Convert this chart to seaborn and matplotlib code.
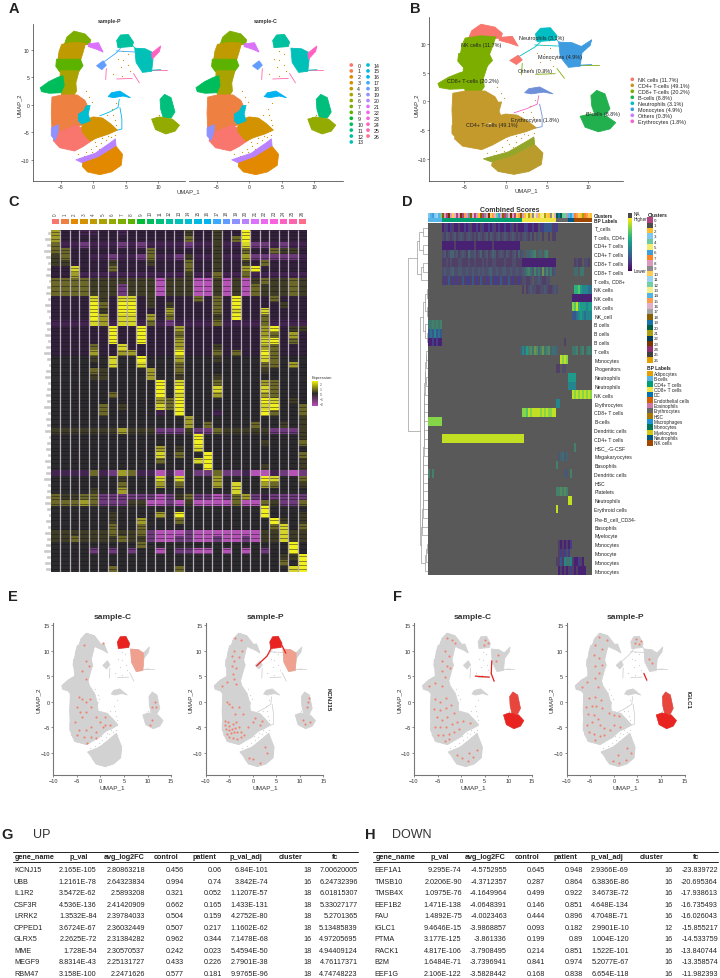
import numpy as np
import pandas as pd
import matplotlib
matplotlib.use("Agg")
import matplotlib.pyplot as plt
from matplotlib.colors import ListedColormap, LinearSegmentedColormap, Normalize, to_rgb
from matplotlib.cm import ScalarMappable
import seaborn as sns

sns.set_theme(style="ticks")
plt.rcParams["font.family"] = ["Liberation Sans", "DejaVu Sans"]

W, H = 720, 979
fig = plt.figure(figsize=(W / 100, H / 100), dpi=100, facecolor="white")


def px_axes(left, top, right, bottom, **kw):
    """Axes placed by pixel edges, measured from the top-left of the figure."""
    return fig.add_axes([left / W, 1 - bottom / H, (right - left) / W, (bottom - top) / H], **kw)


# ---- UMAP outlines of the whole cell cloud (UMAP_1, UMAP_2) ----
SILHOUETTE_MAIN = [(-4.1, 12.3), (-3, 13.4), (-1.3, 12.9), (0.1, 11.3), (1.5, 9.5), (-0.2, 10.7), (-1.3, 10.7), (-2.2, 8.4),
                   (-1.7, 7), (-2.6, 4.1), (-2.3, 3.1), (-1.2, 1.6), (-0.7, 0), (-0.5, -1.8), (1.5, -2.3), (2.6, -3.4), (3.7, -4.5),
                   (1.6, -5.4), (-0.2, -7), (-1.6, -7.7), (-2.9, -8.4), (-5.5, -7.8), (-6.3, -5.8), (-6.5, -2), (-6.3, 1.4), (-6.9, 2.1),
                   (-8.2, 3.1), (-6.9, 4.2), (-5.5, 4.9), (-5.7, 8), (-5, 10)]
SILHOUETTE_LOWER = [(-2.7, -9.8), (-0.2, -8.9), (2.6, -6.8), (3.4, -6.2), (4.5, -8.8), (4.2, -11), (2.6, -12.2), (1, -12.7),
                    (-0.9, -12.2)]

# Outlines of the Seurat clusters
CLOUD = {
    7: [(-4.1, 12.3), (-3, 13.4), (-1.3, 12.9), (-0.4, 11.8), (-0.6, 11), (-1.5, 10.9), (-3, 11), (-4.6, 10.6)],
    4: [(-4.9, 11), (-3, 11.4), (-1.2, 11.2), (-1.6, 9.5), (-2, 8), (-5.5, 8), (-5.3, 9.7)],
    8: [(-5.7, 8.3), (-2, 8.3), (-1.6, 7.1), (-2.3, 6), (-5.2, 6), (-5.8, 7)],
    5: [(-5.1, 6.2), (-2.2, 6.2), (-2.7, 4), (-2.6, 2.5), (-3.4, 1), (-4.8, 1), (-5.2, 4)],
    10: [(-8.2, 3.1), (-6.9, 4.2), (-5.5, 5), (-4.7, 5.3), (-4.5, 3.5), (-5, 2.2), (-6.8, 2.1), (-8, 2.4)],
    1: [(-6.4, 1.4), (-4.9, 1.8), (-2.5, 1.8), (-1.3, 0.8), (-0.9, -0.2), (-1, -2.5), (-1.6, -3.6), (-3, -4.2), (-5.7, -5.8),
        (-6.4, -4.5), (-6.5, -1.5)],
    0: [(-5.9, -5.3), (-2.8, -3.7), (-1.6, -4.3), (-0.4, -5.4), (-0.1, -6.4), (-1.6, -7.6), (-2.9, -8.4), (-5.2, -7.8), (-6.2, -6.5)],
    3: [(-1.8, -4), (-1, -2.6), (0, -2.2), (1.4, -2.4), (2.6, -3.4), (3.7, -4.6), (2.4, -5.3), (0.6, -6), (-0.5, -6.6), (-1.7, -5)],
    14: [(-2.3, -1.7), (-1.5, -1.1), (-1.1, -0.2), (-0.5, -0.1), (-0.8, -1.7), (-0.5, -2.9), (-1.8, -3.5), (-2.3, -2.9)],
    2: [(-1.6, -10.2), (0.5, -9.5), (2.8, -8), (3.4, -7.4), (4.5, -9), (4.3, -11), (2.8, -12.2), (1, -12.7), (-0.9, -12.2), (-1.7, -11.2)],
    20: [(-2.7, -10), (0.3, -8.8), (2.6, -6.9), (3.4, -6.2), (3.5, -7.4), (0.8, -9.4), (-1.8, -10.5)],
    19: [(-6.5, -4.2), (-5.4, -3.6), (-5.4, -4.7), (-5.9, -6.5), (-6.5, -5.6)],
    12: [(3.6, 11.7), (4.2, 12.7), (5.4, 12.8), (6.2, 11.4), (6, 10.6), (3.8, 10.4)],
    13: [(6.4, 10.3), (8, 10.2), (9.2, 9.5), (9.2, 8.2), (9, 6.1), (7.6, 5.9), (6.6, 7.7)],
    24: [(9, 9.4), (10.4, 10.7), (10.2, 9.7), (9.1, 8.3)],
    11: [(10.3, 1), (11, 1.9), (12, 1.3), (12.6, -1.3), (12, -2.4), (10.8, -2.4), (10.4, -0.8)],
    6: [(9, -2.6), (10.2, -2.2), (12.2, -2.6), (13.3, -3.7), (12.6, -4.8), (11.2, -5.3), (9.6, -4.5)],
    16: [(2.3, 1.5), (2.8, 2.2), (4.1, 2.5), (5.7, 1.3), (4.6, 1.6), (3.1, 1.3)],
    18: [(0.5, 7.1), (1.5, 8), (2, 7.2), (1.3, 6.4)],
    21: [(-0.8, 11.1), (0.8, 11.3), (1.5, 9.6), (0.5, 10.1), (-0.8, 10.6)],
}

# Thin trails of sparse cells, drawn as strokes: (cluster, points)
TRAILS_COMMON = [
    (17, [(-5.6, 7.5), (-5.2, 9.4), (-4.5, 10.6)]),
    (25, [(2, 6.6), (1.9, 4.6)]),
    (25, [(6.2, 5.7), (7.1, 4)]),
    (25, [(8, 6.3), (11.3, 6.3)]),
    (25, [(3.6, 4.7), (6, 4.8)]),
    (13, [(9.1, 6.3), (10.4, 6.4)]),
]
TRAILS_SAMPLE_P = [
    (16, [(4.1, -0.5), (4.4, -2.5), (4.4, -4.4), (3.4, -4.7)]),
    (15, [(1, -2), (2.5, -1.3), (3.8, -0.5), (4, 1)]),
    (17, [(0.8, 7.1), (3.6, 9.5), (4.9, 11.3)]),
    (13, [(5.9, 11), (7, 9.6)]),
    (17, [(3.5, 9.8), (6.5, 9.6)]),
]
# Isolated cells around the gaps between the larger clouds
STRAY_CELLS = [(-2.3, -9), (-1.2, -8.6), (-0.4, -8), (0.4, -7.5), (1.2, -7), (1.9, -6.4), (2.7, -5.9), (3.4, -5.5), (-1.4, -9.3),
               (-0.2, -8.6), (0.9, -8), (1.8, -7.4), (0.2, -6.8), (1.3, -6.1), (2.2, -5.6), (3.1, -1.8), (2.1, -1.8), (3.3, -2.8),
               (3.5, -3.6), (2.9, -0.8), (3.5, 0.3), (-1.1, 2.5), (-0.6, 1.4), (-0.2, 0.5), (4.6, 9.8), (5.3, 9.3), (3.8, 8.4),
               (4.6, 8.2), (5.4, 7.2), (4.2, 6.8), (5.7, 6.2), (3.1, 5.6), (4.5, 5.3), (10.2, -1.9), (9.7, -2.2)]

CLUSTER_IDS = list(range(27))
HUE_27 = ["#F8766D", "#EE8042", "#E38900", "#D39200", "#BF9A00", "#AAA200", "#93AA00", "#7CAE00", "#5BB300",
          "#00BA38", "#00BD5C", "#00BF7D", "#00C19F", "#00C0B8", "#00BDD1", "#00B9E3", "#00B3F0", "#3AA9FF",
          "#619CFF", "#8F91FF", "#B983FF", "#DB72FB", "#EC69EF", "#F962DD", "#FF61C3", "#FF65AC", "#FE6E8A"]

CELL_TYPES = ["NK cells (11.7%)", "CD4+ T-cells (49.1%)", "CD8+ T-cells (20.2%)", "B-cells (8.8%)",
              "Neutrophils (3.1%)", "Monocytes (4.9%)", "Others (0.3%)", "Erythrocytes (1.8%)"]
CELL_COLORS = ["#F8766D", "#C49A2C", "#7CAE00", "#22B04F", "#00BFC4", "#3F9BE0", "#C77CFF", "#F564C8"]
# cluster-level fill in panel B: annotated cell type, with mixed CD4/CD8 shades for the lower lobe
CLUSTER_FILL_B = {7: "#F8766D", 21: "#F8766D", 18: "#F8766D", 4: "#7CAE00", 8: "#7CAE00", 5: "#7CAE00", 10: "#7CAE00",
                  1: "#C49A2C", 14: "#C49A2C", 0: "#C49A2C", 3: "#C49A2C", 19: "#C49A2C", 2: "#B99C2C", 20: "#94A62A",
                  12: "#00BFC4", 13: "#3F9BE0", 24: "#3F9BE0", 11: "#22B04F", 6: "#22B04F", 16: "#6F8FD8", 15: "#F564C8",
                  17: "#00BFC4", 25: "#7CAE00"}
TYPE_LABEL_XY = [(-3, 9.9), (-1.65, -4.1), (-4, 3.7), (11.8, -2.1), (4.4, 11.1), (6.6, 7.8), (3.5, 5.4), (3.6, -3.1)]


def draw_cloud(ax, colour_of, trails, base=None):
    if base:
        for outline in (SILHOUETTE_MAIN, SILHOUETTE_LOWER):
            xs, ys = zip(*outline)
            ax.fill(xs, ys, facecolor=base, edgecolor=base, lw=0.5, zorder=1.8)
    for cid, outline in CLOUD.items():
        xs, ys = zip(*outline)
        ax.fill(xs, ys, facecolor=colour_of(cid), edgecolor=colour_of(cid), lw=0.6, zorder=2, joinstyle="round")
    for cid, pts in trails:
        xs, ys = zip(*pts)
        ax.plot(xs, ys, color=colour_of(cid), lw=0.6, zorder=1.5, solid_capstyle="round")
    sx, sy = zip(*STRAY_CELLS)
    sns.scatterplot(x=list(sx), y=list(sy), ax=ax, color=base or colour_of(3), s=0.8, linewidth=0, zorder=1.6, legend=False)


def style_umap(ax, xlim, ylim, xticks, yticks, left=True, size=3.6, spine="#333333", lw=0.5):
    ax.set_xlim(*xlim)
    ax.set_ylim(*ylim)
    ax.set_xticks(xticks)
    ax.set_yticks(yticks if left else [])
    ax.set_facecolor("none")
    ax.tick_params(length=1.5, width=0.4, labelsize=size, pad=1, colors="#333333")
    sns.despine(ax=ax, left=not left)
    for s in ax.spines.values():
        s.set_linewidth(lw)
        s.set_color(spine)
    ax.grid(False)


# ---- Panel A: clusters split by sample ----
a_xticks, a_yticks = [-5, 0, 5, 10], [-10, -5, 0, 5, 10]
ax = px_axes(32.7, 25, 185.3, 181.7)
draw_cloud(ax, lambda c: HUE_27[c], TRAILS_COMMON + TRAILS_SAMPLE_P)
style_umap(ax, (-9.37, 14.2), (-13.8, 14.7), a_xticks, a_yticks)
ax = px_axes(189.3, 25, 343.3, 181.7)
draw_cloud(ax, lambda c: HUE_27[c], TRAILS_COMMON)
style_umap(ax, (-9.23, 14.46), (-13.8, 14.7), a_xticks, a_yticks, left=False)

# ---- Panel B: annotated cell types ----
ax_b = px_axes(429.3, 18, 623, 181.7)
draw_cloud(ax_b, lambda c: CLUSTER_FILL_B[c], TRAILS_COMMON + TRAILS_SAMPLE_P)
style_umap(ax_b, (-9.24, 14.18), (-13.8, 14.66), a_xticks, a_yticks)
for label, (lx, ly) in zip(CELL_TYPES, TYPE_LABEL_XY):
    ax_b.text(lx, ly, label, fontsize=3.9, color="#222222", ha="center", va="center", zorder=5)

# ---- Panel C: marker gene heatmap, levels per gene block (rows) and cluster (columns) ----
# 0-4 low side (charcoal to pink), 5-9 high side (olive to bright yellow)
C_COLOURS = ["#2B2A2C", "#33213C", "#432450", "#6F3A7C", "#B552B5", "#3F3D25", "#6B6828", "#9F9C28", "#D5D52A", "#F2F01E"]
C_ROWS = [
    "71122 11211 11115 11511 91111 11",
    "71111 11111 11116 11516 91111 11",
    "62232 22323 22223 22522 83323 22",
    "66111 11111 61111 11511 61165 51",
    "56112 23223 62235 22522 73333 32",
    "55111 15111 51116 11511 51611 11",
    "11811 16111 11116 11511 79111 11",
    "11722 22222 22225 22622 62222 22",
    "66665 55555 54555 44545 45655 65",
    "66665 55355 54555 44545 46555 65",
    "66665 55355 54555 44545 46555 65",
    "11118 51881 51111 61619 11161 11",
    "11119 61991 51511 11619 11115 11",
    "11119 51991 11711 11618 11811 11",
    "11119 71881 71611 11519 11611 11",
    "22228 72882 62322 22622 22622 22",
    "11111 19119 11171 11111 11791 55",
    "11111 19119 11161 11111 11761 71",
    "11111 19119 11171 11111 11891 61",
    "11116 11811 11171 11511 11761 11",
    "11117 11771 11191 11616 11961 11",
    "00005 08009 00070 00500 00860 00",
    "00000 08008 00060 00000 00660 70",
    "00006 50000 70060 00000 00500 00",
    "00005 50000 70050 00500 00000 00",
    "00000 00000 09080 00600 00760 00",
    "00000 00000 09090 00800 00860 00",
    "00000 06000 09080 00700 00760 00",
    "00000 00000 07690 00000 00980 50",
    "00000 60500 08690 00000 00890 06",
    "00000 60000 02090 00200 00960 06",
    "00000 00000 00007 00000 00000 05",
    "00000 00000 00007 06000 06005 05",
    "55555 55755 53335 33655 55533 35",
    "00000 00000 00000 90000 00000 05",
    "00000 00000 00000 90000 00500 06",
    "00000 00000 07050 80000 00000 00",
    "00000 00000 08060 09000 00000 06",
    "00000 00000 06000 89000 00000 05",
    "00000 00000 00000 09000 00500 05",
    "22226 23762 24240 33633 24423 43",
    "00000 00500 08080 00700 00980 06",
    "00000 00600 07060 00708 00760 05",
    "00005 00700 00000 00008 00000 00",
    "65566 33333 34356 33436 73233 33",
    "66676 33355 44345 44446 44653 36",
    "00000 00000 00000 00000 00900 00",
    "00000 05000 07090 00000 00900 05",
    "00000 05007 00060 00000 00095 05",
    "00000 06006 00000 00000 00068 06",
    "55555 56556 34443 44444 44558 55",
    "55655 55655 34433 44344 34558 55",
    "00000 00006 00000 00000 00000 90",
    "00003 03030 04033 44040 40300 90",
    "00000 00000 00000 00000 00005 59",
    "00000 00000 00000 00000 00006 09",
    "00000 06000 00060 00000 00000 89",
]
# genes with low expression throughout, seen as thin dark lines across the blocks (row units)
C_LOW_GENES = [0.35, 0.8, 1.55, 2.6, 3.3, 3.85, 4.7, 5.4, 6.3, 6.9, 7.6, 8.4, 9.25, 10.1, 11.3, 11.85, 12.45, 13.2, 13.7, 14.4,
               15.1, 16.3, 16.8, 17.45, 18.2, 18.7, 19.3, 20.2, 20.8, 21.4, 22.3, 22.85, 23.6, 24.2, 25.3, 25.9, 26.5, 27.2, 27.8,
               28.35, 28.9, 29.45, 30.2, 30.8, 31.5, 32.4, 33.6, 34.3, 34.9, 35.6, 36.3, 36.9, 37.5, 38.2, 38.8, 39.6, 41.3, 41.9,
               42.6, 43.2, 44.3, 44.9, 45.7, 46.4, 47.2, 47.8, 48.3, 49.4, 49.9, 50.6, 51.3, 52.4, 53.2, 53.8, 54.4, 55.2, 55.8, 56.5]
# lengths of the (very small) gene labels left of each block
C_LABEL_WIDTH = [4, 7, 5, 8, 6, 4, 5, 6, 3, 5, 6, 4, 7, 5, 3, 6, 5, 7, 4, 6, 8, 5, 3, 6, 7, 4, 5, 6, 5, 8, 4,
                 6, 5, 7, 3, 5, 6, 4, 7, 5, 6, 8, 4, 5, 6, 7, 5, 3, 6, 4, 7, 5, 6, 8, 5, 7, 6]
c_matrix = pd.DataFrame([[int(ch) for ch in row.replace(" ", "")] for row in C_ROWS], columns=CLUSTER_IDS)

ax_c = px_axes(51, 231, 307, 573)
sns.heatmap(c_matrix, ax=ax_c, cmap=ListedColormap(C_COLOURS), vmin=-0.5, vmax=9.5, cbar=False,
            xticklabels=False, yticklabels=False, rasterized=True)
ax_c.hlines(C_LOW_GENES, 0, 27, color="#17131C", alpha=0.6, lw=0.55)
ax_c.vlines(np.arange(1, 27), 0, len(C_ROWS), color="#B8AEBB", lw=0.9)
ax_c.set_xlabel("")
ax_c.set_ylabel("")

ax_lab = px_axes(42, 231, 50.5, 573)
ax_lab.barh(np.arange(len(C_LABEL_WIDTH)) + 0.5, C_LABEL_WIDTH, height=0.72, left=[-w for w in C_LABEL_WIDTH],
            color="#C9C9C9")
ax_lab.set_xlim(-8.5, 0)
ax_lab.set_ylim(len(C_LABEL_WIDTH), 0)
ax_lab.axis("off")

ax_bar = px_axes(51, 219, 307, 225.7)
sns.heatmap(pd.DataFrame([CLUSTER_IDS], columns=CLUSTER_IDS), ax=ax_bar, cmap=ListedColormap(HUE_27), cbar=False,
            vmin=-0.5, vmax=26.5, linewidths=0.3, linecolor="white", yticklabels=False, xticklabels=CLUSTER_IDS)
ax_bar.xaxis.tick_top()
ax_bar.tick_params(axis="x", length=0, labelsize=3.3, rotation=90, pad=2.5, colors="#444444")
ax_bar.set_xlabel("")

expr_cmap = LinearSegmentedColormap.from_list("expr", ["#B94FB9", "#2A2A2A", "#F5F500"])
ax_ex = px_axes(312, 381.7, 318, 407.3)
cb = fig.colorbar(ScalarMappable(Normalize(-2.5, 2.5), expr_cmap), cax=ax_ex)
cb.set_ticks([-2, -1, 0, 1, 2])
cb.ax.tick_params(length=0, labelsize=2.4, pad=1, colors="#555555")
cb.outline.set_visible(False)

# ---- Panel D: cell type score heatmap ----
D_LABELS = ["T_cells", "T cells, CD4+", "CD4+ T cells", "CD4+ T cells", "CD8+ T cells", "CD8+ T cells", "T cells, CD8+",
            "NK cells", "NK cells", "NK cells", "NK_cell", "B cells", "B cells", "B cells", "T cells", "Monocytes",
            "Progenitors", "Neutrophils", "Neutrophils", "NK cells", "Erythrocytes", "CD8+ T cells", "B-cells",
            "Dendritic cells", "CD4+ T cells", "HSC_-G-CSF", "Megakaryocytes", "Basophils", "Dendritic cells", "HSC",
            "Platelets", "Neutrophils", "Erythroid cells", "Pre-B_cell_CD34-", "Basophils", "Myelocyte", "Monocytes",
            "Monocyte", "Monocytes", "Monocytes"]
# '.' no score; 0-9 viridis level; a-j the same levels at low confidence (mixed with the grey)
D_ROWS = [
    ".......0a101a00a00101a0010a100101a01001001a0a0001100100b112222a11",
    ".......bacbabcabcbabcbabacbabcacbabcabcbabcbababcbaca.bc.a..a.aa...",
    ".......000000a000000000a00000000a0000000000000..",
    ".......bcabddbcabcbaebbcabdabcabdcabcbacbabcadbc.ddefg.de.fg......",
    ".......aababaaabbaaabaabaaababaabbaaaabaaabbaaa00000000000000000.........abaa.bba",
    ".......bcbbcdbbccbbcbbcbbcbcbbcdbbcbbccbbcbbcbbcdfgecgdfcidgdfbc.........ee.ff",
    ".......a1a2a1a1aa2a11a2a1a2aa1a2a11a2a1a2a1aa1abbaab.bbcbaabb",
    "...............................................a.abcbbaabbcbaabcb........66754443344",
    "........................................................................0000000000",
    "........................................................................8796555455",
    "........................................................................22345434443",
    "ffgfgfg...",
    "2324232...",
    "0010100.............................................................a",
    "..............................................d4e5ghfihegifghdeed.......ffg.fg.fgf",
    "..................................................................9898.",
    "................................................................aa.bb",
    "......................................................................5555",
    "......................................................................4444",
    "........................................................................9898989898",
    "................................................................44",
    "...............................................88798999989898899",
    "8888888",
    "..........................................................................",
    ".......99999999999999999999999999999999999999999",
    ".........................................................................g",
    ".................................................................cdecd",
    "................................................................g",
    "g.g.................................................................cc.g",
    ".",
    "................................................................gghghg",
    "......................................................................99",
    "................................................................9",
    ".",
    ".",
    ".",
    ".................................................................a0a0a01",
    ".................................................................a1a1b1",
    "................................................................aa2a4ff4a001a0",
    ".................................................................0a0a0a1a0a0000",
]
D_COLS = 82
# cluster of each column, in heatmap order
D_CLUSTER_STRIP = [3, 14, 6, 3, 11, 14, 4, 18, 8, 0, 23, 8, 10, 16, 0, 8, 23, 0, 15, 8, 9, 18, 16, 0, 8, 2, 18, 0, 9, 8,
                   23, 10, 15, 16, 4, 6, 8, 18, 0, 9, 16, 23, 8, 0, 10, 15, 18, 8, 2, 5, 21, 10, 9, 13, 16, 2, 5, 13, 21,
                   10, 2, 9, 5, 16, 20, 19, 20, 4, 12, 17, 14, 6, 3, 7, 15, 10, 2, 21, 7, 15, 10, 2]
# heatmap span (in columns) of each BP label, with the label's palette index
D_BP_SPANS = [(7, 1), (40, 2), (17, 3), (6, 7), (3, 12), (9, 13)]
BP_LABELS = ["Adipocytes", "B-cells", "CD4+ T cells", "CD8+ T cells", "DC", "Endothelial cells", "Eosinophils",
             "Erythrocytes", "HSC", "Macrophages", "Monocytes", "Myelocytes", "Neutrophils", "NK cells"]
BP_COLOURS = ["#E69F00", "#56B4E9", "#009E73", "#F0E442", "#0072B2", "#D55E00", "#CC79A7", "#666666", "#AD7700",
              "#1C91D4", "#007756", "#D5C711", "#005685", "#A04700"]
DITTO_CLUSTERS = ["#B14380", "#4D4D4D", "#FFBE2D", "#80C7EF", "#6CC9A0", "#F4EB71", "#3F9FDC", "#FF8320", "#D99BBD",
                  "#8C8C8C", "#FFCB57", "#9AD2F2", "#72CFA5", "#F6EF8E", "#51B3E8", "#FF9B4D", "#E0AFCA", "#A3A3A3",
                  "#8A5F00", "#1674A9", "#005F45", "#AA9F0D", "#003C5C", "#7A3600", "#8F2F6B", "#404040", "#E69F00"]

GREY = np.array(to_rgb("#595959"))
D_LEVELS = "0123456789"
D_DIM = "abcdefghij"
vir = sns.color_palette("viridis", 10)
d_palette = [tuple(c) for c in vir] + [tuple(0.45 * np.array(c) + 0.55 * GREY) for c in vir]
d_values = np.full((len(D_ROWS), D_COLS), np.nan)
for r, row in enumerate(D_ROWS):
    for c, ch in enumerate(row[:D_COLS]):
        if ch in D_LEVELS:
            d_values[r, c] = D_LEVELS.index(ch)
        elif ch in D_DIM:
            d_values[r, c] = 10 + D_DIM.index(ch)
d_cmap = ListedColormap(d_palette)
d_cmap.set_bad("#595959")

ax_d = px_axes(428.3, 224.3, 592.3, 576)
sns.heatmap(pd.DataFrame(d_values), ax=ax_d, cmap=d_cmap, vmin=-0.5, vmax=19.5, cbar=False, xticklabels=False,
            yticklabels=D_LABELS, rasterized=True)
ax_d.set_facecolor("#595959")
ax_d.yaxis.tick_right()
ax_d.tick_params(axis="y", length=0, labelsize=3.7, rotation=0, pad=1.5, colors="#222222")
for lab in ax_d.get_yticklabels():
    lab.set_rotation(0)

ax_s1 = px_axes(428.3, 214.3, 592.3, 218.6)
sns.heatmap(pd.DataFrame([D_CLUSTER_STRIP]), ax=ax_s1, cmap=ListedColormap(DITTO_CLUSTERS), vmin=-0.5, vmax=26.5,
            cbar=False, xticklabels=False, yticklabels=False)
ax_s2 = px_axes(428.3, 219, 592.3, 223.2)
bp_strip = [idx for n, idx in D_BP_SPANS for _ in range(n)]
sns.heatmap(pd.DataFrame([bp_strip]), ax=ax_s2, cmap=ListedColormap(BP_COLOURS), vmin=-0.5, vmax=13.5,
            cbar=False, xticklabels=False, yticklabels=False)

# Row dendrogram: vertical at x joining two children (y_a from x_a, y_b from x_b); y in row units
DENDRO = [
    (100, 0, 1, 115, 115), (100, 2, 3, 115, 115), (88, 0.5, 2.5, 100, 100),
    (100, 4, 5, 115, 115), (92, 4.5, 6, 100, 115), (80, 1.5, 5.25, 88, 92),
    (110, 7, 8, 115, 115), (110, 9, 10, 115, 115), (104, 7.5, 9.5, 110, 110),
    (110, 12, 13, 115, 115), (106, 11, 12.5, 115, 110), (100, 8.5, 11.75, 104, 106),
    (109, 14, 15, 115, 115), (107, 14.5, 16, 109, 115), (107, 17, 18, 115, 115),
    (105, 15.25, 17.5, 107, 107), (110, 36, 37, 115, 115), (108, 36.5, 38, 110, 115),
    (106, 37.25, 39, 108, 115),
]
DENDRO_CHAIN_X = [104, 103, 110, 102, 103, 109, 102, 101, 108, 101, 100, 99, 99, 98, 98, 97, 97]
ax_den = px_axes(407.7, 224.3, 428.3, 576)
dendro_grey = "#9C9C9C"


def bracket(x, ya, yb, xa, xb):
    ax_den.plot([xa, x, x, xb], [ya, ya, yb, yb], color=dendro_grey, lw=0.5, solid_joinstyle="miter")


for link in DENDRO:
    bracket(*link)
chain_y, chain_x = 16.38, 105
for leaf, x in zip(range(19, 36), DENDRO_CHAIN_X):
    x = min(x, chain_x - 0.3)
    bracket(x, chain_y, leaf, chain_x, 115)
    chain_y, chain_x = (chain_y + leaf) / 2, x
bracket(94, chain_y, 38.1, chain_x, 106)
bracket(91, 10.1, (chain_y + 38.1) / 2, 100, 94)
bracket(53, 3.4, (10.1 + (chain_y + 38.1) / 2) / 2, 80, 91)
ax_den.set_xlim(53, 115)
ax_den.set_ylim(39.5, -0.5)
ax_den.axis("off")

ax_dcb = px_axes(627.7, 219.3, 631.7, 272)
cb = fig.colorbar(ScalarMappable(Normalize(0, 1), "viridis"), cax=ax_dcb)
cb.set_ticks([])
cb.outline.set_visible(False)

# ---- Panels E and F: feature plots ----
E_C_SPOTS = [(-3, 8), (-2.5, 7), (-4, 6), (-3, 4.5), (0.6, 11.4), (-4.5, 1), (-3, 0), (-2, -1), (-5, -1), (-4, -3), (-3, -2),
             (-1, -3), (0, -4), (1, -4.5), (-2, -5), (-3, -5.5), (-4.5, -5.5), (-5, -6.5), (-2, -7), (-1, -6), (1, -3),
             (2, -4.5), (11, -1), (11.5, 0), (11.8, -1), (11, -3.5), (10.5, -4.5), (-2.8, -8), (-3.5, -7), (-4, 0.5),
             (-2.3, 0.5), (-5.5, -4), (0.5, -5), (-3.5, 11), (-1, -7.2), (-4.4, -2)]
E_P_SPOTS = [(-3.8, 12.5), (-4, 10), (-4.5, 9), (-4, 8), (-3, 8.7), (-4.5, 7), (-3.5, 6.5), (-4.3, 5.5), (-4, 4.5), (-3.5, 3.5),
             (-6.5, 3), (-5.5, 3.8), (-5, -0.5), (-4.4, -1), (-3.8, -2.4), (-5.8, -3.8), (-5.3, -4), (-5.8, -4.5), (-5, -4.8),
             (-4.3, -4.3), (-3.5, -4), (-5.6, -5.4), (-5, -5.6), (-4.4, -5.3), (-3.8, -5.2), (-3, -5), (-5.4, -6.3), (-4.7, -6.2),
             (-4, -6), (-3.4, -6), (-2.6, -6), (-5, -7), (-4.3, -7.1), (-3.4, -7.4), (-2.6, -7), (-1.8, -6.5), (-1, -5), (0, -4),
             (1.5, -4.5), (2, -3.7), (0.5, -3.2), (-2, -2.5), (-3, -1), (-5.5, 0), (-0.8, -11), (0, -11.3), (1.5, -12), (3, -10),
             (2.5, -8.8), (11.7, 0), (11.4, -1), (11.9, 0.8), (10.6, -3.6), (11, -4.3), (12.2, -4), (-2.2, 10), (-2.6, 12)]
F_C_SPOTS = [(-3, 12.5), (-2, 12), (-1.4, 11.5), (-3.5, 10), (-2.6, 9), (-4, 8), (-3, 7), (-2.4, 6.5), (-4, 6), (-3.5, 4.8), (-6.8, 3.1),
             (-5.5, 3.6), (-4, 3), (-5.5, 0.5), (-4.4, 0), (-3.2, 0.8), (-5.8, -1.5), (-4.5, -1.7), (-3.3, -1.3), (-2.1, -0.6),
             (-5.2, -3), (-4, -3.5), (-3, -3), (-1.6, -2.3), (-5.5, -5), (-4.4, -5), (-3.2, -5), (-2, -4.3), (-0.8, -4), (0.5, -3.8),
             (1.8, -4.2), (-5, -6.5), (-3.8, -6.6), (-2.6, -6.4), (-1.5, -6), (-0.4, -5.3), (-3.5, -7.7), (-2.5, -7.4), (0.2, -11),
             (1.4, -11.6), (2.6, -10.8), (3.4, -9.5), (1.6, -10), (-0.9, -10.4), (5, 12), (4.8, 11), (5.6, 11.4), (7.4, 8), (7.8, 9.2)]
F_P_SPOTS = [(-3.2, 12.7), (-1.5, 12), (-3.9, 11), (-2.5, 10.3), (-4.2, 9.2), (-3.2, 8.5), (-2.6, 7.2), (-4, 7), (-3.2, 5.6), (-4.1, 4.7),
             (-3.4, 2.9), (-6.7, 2.9), (-5.6, 3.9), (-5.3, 0.7), (-4, 1), (-2.7, 0.3), (-6, -1), (-4.7, -0.8), (-3.7, -0.8), (-2.5, -1.3),
             (-5.5, -2.5), (-4.3, -2.6), (-3.4, -3.4), (-1.1, -2.3), (0, -2.7), (1, -2.9), (-5.6, -4.5), (-4.7, -4), (-3, -4.6), (-2, -5.2),
             (0, -4.6), (1.4, -5), (-5.3, -6), (-4.2, -6.4), (-3, -6.8), (-2.1, -6.6), (-0.8, -5.6), (-4, -7.6), (-0.2, -11.6), (1, -12),
             (2.5, -11.4), (3.7, -10), (2.8, -9), (0.8, -10.4), (4.8, 12.3), (5.4, 11.2), (4.4, 11.5), (5.7, 11.9), (7.5, 8.4), (8.1, 7.5)]
GREY_CLOUD = "#D2D2D2"
HOT = "#E9231F"
SOFT = "#F0A08E"

# (column left edge px, sample title, speckle positions, solid regions, soft regions, sample has web trails)
FEATURE_PANELS = [
    (53.3, "sample-C", E_C_SPOTS, [(12, HOT)], [(13, SOFT)], False),
    (205.7, "sample-P", E_P_SPOTS, [(12, HOT)], [(13, SOFT)], True),
    (414.0, "sample-C", F_C_SPOTS, [(11, "#E8453C"), (6, HOT)], [], False),
    (566.7, "sample-P", F_P_SPOTS, [(11, "#E8453C"), (6, HOT)], [], True),
]
HOT_TRAILS = {
    1: [[(0.8, 7), (3, 8.9), (4.2, 11)], [(6.2, 11), (7, 9.5)]],
    2: [[(6.5, 8), (6.4, 5.5), (7, 4)], [(3, 5), (6, 4.8)]],
    3: [[(6.4, 5.5), (7, 4.2)]],
}
for i, (left, title, spots, hot, soft, web) in enumerate(FEATURE_PANELS):
    ax = px_axes(left, 624, left + 117.8, 775.7)
    trails = TRAILS_COMMON + (TRAILS_SAMPLE_P if web else [])
    draw_cloud(ax, lambda c: GREY_CLOUD, trails, base=GREY_CLOUD)
    for cid, colour in hot + soft:
        xs, ys = zip(*CLOUD[cid])
        ax.fill(xs, ys, facecolor=colour, edgecolor=colour, lw=0.4, zorder=3)
    for seg in HOT_TRAILS.get(i, []):
        xs, ys = zip(*seg)
        ax.plot(xs, ys, color=HOT, lw=0.9, zorder=3)
    sx, sy = zip(*spots)
    sns.scatterplot(x=list(sx), y=list(sy), ax=ax, color="#F0826E", s=2.4, linewidth=0, zorder=4, legend=False)
    style_umap(ax, (-10, 15), (-14.3, 15.4), [-10, -5, 0, 5, 10, 15], [-10, -5, 0, 5, 10, 15], size=4,
               spine="#777777", lw=0.8)

# ---- Overlay for page-level text, discrete legends and table rules ----
ov = fig.add_axes([0, 0, 1, 1], zorder=10)
ov.set_facecolor("none")

# Panel A legend
a_col1, a_col2 = CLUSTER_IDS[:14], CLUSTER_IDS[14:]
for xpos, ids in ((351.3, a_col1), (368, a_col2)):
    ys = [66 + 5.92 * k for k in range(len(ids))]
    sns.scatterplot(x=[xpos] * len(ids), y=ys, hue=[str(k) for k in ids],
                    palette={str(k): HUE_27[k] for k in ids}, s=7, linewidth=0, legend=False, ax=ov)
    for k, y in zip(ids, ys):
        ov.text(xpos + 6, y, str(k), fontsize=3.8, va="center", color="#222222")

# Panel B legend
b_y = [80.3 + 6.0 * k for k in range(len(CELL_TYPES))]
sns.scatterplot(x=[632.3] * 8, y=b_y, hue=CELL_TYPES, palette=dict(zip(CELL_TYPES, CELL_COLORS)), s=7, linewidth=0,
                legend=False, ax=ov)
for label, y in zip(CELL_TYPES, b_y):
    ov.text(637.7, y, label, fontsize=3.9, va="center", color="#222222")

# Panel D legends
ov.add_patch(plt.Rectangle((627.7, 214), 4, 5, color="#4A4A4A", lw=0))
for txt, y in (("NA", 214.5), ("Higher", 219.5), ("Lower", 272)):
    ov.text(633.3, y, txt, fontsize=3.3, va="center", color="#222222")
ov.text(647.3, 215.7, "Clusters", fontsize=3.5, fontweight="bold", va="center", color="#222222")
for k, colour in enumerate(DITTO_CLUSTERS):
    y = 218.3 + 5.38 * k
    ov.add_patch(plt.Rectangle((647.3, y), 5.2, 5.38, color=colour, lw=0))
    ov.text(653.8, y + 2.7, str(k), fontsize=3.2, va="center", color="#222222")
ov.text(647.3, 369, "BP Labels", fontsize=3.5, fontweight="bold", va="center", color="#222222")
for k, (label, colour) in enumerate(zip(BP_LABELS, BP_COLOURS)):
    y = 371.6 + 5.36 * k
    ov.add_patch(plt.Rectangle((647.3, y), 5.2, 5.36, color=colour, lw=0))
    ov.text(653.8, y + 2.7, label, fontsize=3.4, va="center", color="#222222")
ov.text(510, 210, "Combined Scores", fontsize=5, fontweight="bold", ha="center", va="center", color="#333333")
ov.text(594, 216.6, "Clusters", fontsize=3.4, fontweight="bold", va="center", color="#222222")
ov.text(594, 221.2, "BP Labels", fontsize=3.4, fontweight="bold", va="center", color="#222222")
ov.text(312, 378, "Expression", fontsize=3, va="center", color="#333333")

# Panel letters
for letter, x, y in (("A", 14, 9), ("B", 415, 9), ("C", 13.5, 202), ("D", 407, 202), ("E", 13, 597), ("F", 397, 597),
                     ("G", 7, 835), ("H", 370, 835)):
    ov.text(x, y, letter, fontsize=10.5, fontweight="bold", ha="center", va="center", color="#222222")

# Axis titles
for txt, x, y, rot, size in (
    ("sample-P", 110, 22, 0, 3.8), ("sample-C", 266, 22, 0, 3.8),
    ("UMAP_1", 188, 191.5, 0, 4.2), ("UMAP_2", 19.5, 105, 90, 4.2),
    ("UMAP_1", 526.7, 191, 0, 4.2), ("UMAP_2", 416, 105, 90, 4.2),
):
    ov.text(x, y, txt, fontsize=size, rotation=rot, ha="center", va="center", color="#333333",
            fontweight="bold" if txt.startswith("sample") else "normal")
for x, title in ((112.7, "sample-C"), (265, "sample-P"), (473, "sample-C"), (625.7, "sample-P")):
    ov.text(x, 617.7, title, fontsize=6, fontweight="bold", ha="center", va="center", color="#333333")
    ov.text(x, 787.5, "UMAP_1", fontsize=4.6, ha="center", va="center", color="#333333")
for x in (38.3, 190.7, 399, 551):
    ov.text(x, 700, "UMAP_2", fontsize=4.6, rotation=90, ha="center", va="center", color="#333333")
ov.text(328, 700, "KCNJ15", fontsize=4.4, fontweight="bold", rotation=-90, ha="center", va="center", color="#222222")
ov.text(688, 700, "IGLC1", fontsize=4.4, fontweight="bold", rotation=-90, ha="center", va="center", color="#222222")

# ---- Panels G and H: top differential genes ----
TABLE_HEADER = ["gene_name", "p_val", "avg_log2FC", "control", "patient", "p_val_adj", "cluster", "fc"]
UP_GENE = ["KCNJ15", "UBB", "IL1R2", "CSF3R", "LRRK2", "CPPED1", "GLRX5", "MME", "MEGF9", "RBM47"]
UP_PVAL = ["2.165E-105", "1.2161E-78", "3.5472E-62", "4.536E-136", "1.3532E-84", "3.6724E-67", "2.2625E-72", "1.728E-54",
           "8.8314E-43", "3.158E-100"]
UP_LOG2FC = ["2.80863218", "2.64323834", "2.5893208", "2.41420909", "2.39784033", "2.36032449", "2.31384282", "2.30570537",
             "2.25131727", "2.2471626"]
UP_CONTROL = ["0.456", "0.994", "0.321", "0.662", "0.504", "0.507", "0.962", "0.242", "0.433", "0.577"]
UP_PATIENT = ["0.06", "0.74", "0.052", "0.165", "0.159", "0.217", "0.344", "0.023", "0.226", "0.181"]
UP_PADJ = ["6.84E-101", "3.842E-74", "1.1207E-57", "1.433E-131", "4.2752E-80", "1.1602E-62", "7.1478E-68", "5.4594E-50",
           "2.7901E-38", "9.9765E-96"]
UP_CLUSTER = ["18", "16", "18", "18", "18", "18", "16", "18", "18", "18"]
UP_FC = ["7.00620005", "6.24732396", "6.01815307", "5.33027177", "5.2701365", "5.13485839", "4.97205695", "4.94409124",
         "4.76117371", "4.74748223"]
DOWN_GENE = ["EEF1A1", "TMSB10", "TMSB4X", "EEF1B2", "FAU", "IGLC1", "PTMA", "RACK1", "B2M", "EEF1G"]
DOWN_PVAL = ["9.295E-74", "2.0206E-90", "1.0975E-76", "1.471E-138", "1.4892E-75", "9.4646E-15", "3.177E-125", "4.817E-106",
             "1.6484E-71", "2.106E-122"]
DOWN_LOG2FC = ["-4.5752955", "-4.3712357", "-4.1649964", "-4.0648391", "-4.0023463", "-3.9868857", "-3.861336", "-3.7908495",
               "-3.7396941", "-3.5828442"]
DOWN_CONTROL = ["0.645", "0.287", "0.499", "0.146", "0.444", "0.093", "0.199", "0.214", "0.841", "0.168"]
DOWN_PATIENT = ["0.948", "0.864", "0.922", "0.851", "0.896", "0.182", "0.89", "0.851", "0.974", "0.838"]
DOWN_PADJ = ["2.9366E-69", "6.3836E-86", "3.4673E-72", "4.648E-134", "4.7048E-71", "2.9901E-10", "1.004E-120", "1.522E-101",
             "5.2077E-67", "6.654E-118"]
DOWN_CLUSTER = ["16", "16", "16", "16", "16", "12", "16", "16", "16", "16"]
DOWN_FC = ["-23.839722", "-20.695364", "-17.938613", "-16.735493", "-16.026043", "-15.855217", "-14.533759", "-13.840744",
           "-13.358574", "-11.982393"]

up_table = pd.DataFrame(dict(zip(TABLE_HEADER, [UP_GENE, UP_PVAL, UP_LOG2FC, UP_CONTROL, UP_PATIENT, UP_PADJ, UP_CLUSTER, UP_FC])))
down_table = pd.DataFrame(dict(zip(TABLE_HEADER, [DOWN_GENE, DOWN_PVAL, DOWN_LOG2FC, DOWN_CONTROL, DOWN_PATIENT, DOWN_PADJ,
                                                  DOWN_CLUSTER, DOWN_FC])))


def draw_table(table, header_x, cell_x, rule_from, rule_to):
    ov.plot([rule_from, rule_to], [852.5, 852.5], color="#222222", lw=0.7)
    ov.plot([rule_from, rule_to], [863.3, 863.3], color="#222222", lw=0.7)
    for name, hx in zip(TABLE_HEADER, header_x):
        ov.text(hx, 857.8, name, fontsize=5.2, fontweight="bold", ha="center", va="center", color="#222222")
    for r, row in enumerate(table.itertuples(index=False)):
        y = 870.7 + 11.5 * r
        for c, (value, cx) in enumerate(zip(row, cell_x)):
            ov.text(cx, y, value, fontsize=5.2, ha="left" if c == 0 else "right", va="center", color="#222222")


ov.text(33, 835, "UP", fontsize=9, ha="left", va="center", color="#333333")
ov.text(392, 835, "DOWN", fontsize=9, ha="left", va="center", color="#333333")
draw_table(up_table, [35, 79, 124, 166, 204.3, 246, 290.7, 335.3], [14, 96.7, 145, 184, 222, 268.3, 311.7, 357.7], 12.7, 358)
draw_table(down_table, [395.7, 440, 485, 526.7, 565.3, 606.7, 651.3, 696],
           [374.7, 461.7, 507, 545.3, 583, 629, 672.7, 718], 373, 718)

ov.set_xlim(0, W)
ov.set_ylim(H, 0)
ov.axis("off")

fig.savefig("out.png", dpi=100, facecolor="white")
